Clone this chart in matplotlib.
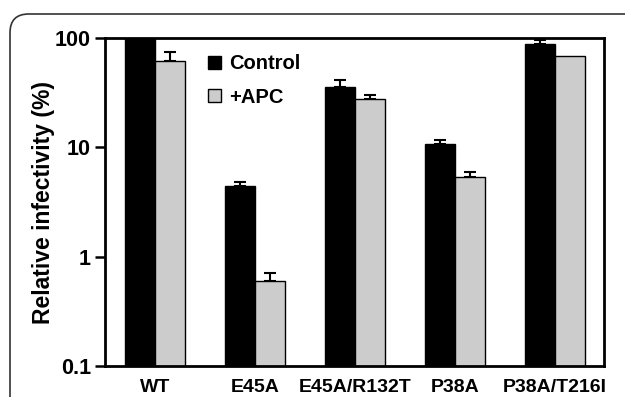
import matplotlib
matplotlib.use("Agg")
import matplotlib.pyplot as plt
from matplotlib.patches import FancyBboxPatch
import numpy as np

plt.rcParams['font.family'] = ['Liberation Sans', 'DejaVu Sans']
plt.rcParams['font.weight'] = 'bold'

# valeurs
mutants = ['WT', 'E45A', 'E45A/R132T', 'P38A', 'P38A/T216I']
control = [100, 4.4, 36, 10.7, 88]
control_err = [0, 0.4, 5, 1.0, 8]
apc = [61, 0.60, 27.5, 5.3, 68]
apc_err = [13, 0.11, 2.5, 0.7, 0]

fig = plt.figure(figsize=(6.25, 3.97), dpi=100)

# cadre arrondi autour de la figure (coupe a droite et en bas)
frame = FancyBboxPatch((10 / 625, -0.3), 1.3, 1.3 - 14 / 397,
                       boxstyle="round,pad=0,rounding_size=0.03",
                       transform=fig.transFigure, fill=False,
                       edgecolor='#333333', linewidth=1.2, mutation_aspect=625 / 397)
fig.patches.append(frame)

ax = fig.add_axes([105 / 625, 31 / 397, 499 / 625, 328 / 397])

x = np.arange(len(mutants))
w = 0.3
b1 = ax.bar(x - w / 2, control, w, color='black', edgecolor='black', linewidth=1,
            label='Control', zorder=2)
b2 = ax.bar(x + w / 2, apc, w, color='#cccccc', edgecolor='black', linewidth=1,
            label='+APC', zorder=2)

err_kw = dict(fmt='none', ecolor='black', elinewidth=1.5, capsize=4.5, capthick=1.5, zorder=1)
for xs, vals, errs in [(x - w / 2, control, control_err), (x + w / 2, apc, apc_err)]:
    keep = [i for i in range(len(errs)) if errs[i] > 0]
    ax.errorbar(xs[keep], np.array(vals)[keep],
                yerr=[np.zeros(len(keep)), np.array(errs)[keep]], **err_kw)

ax.set_yscale('log')
ax.set_ylim(0.1, 100)
ax.set_xlim(-0.5, 4.49)
ax.set_yticks([0.1, 1, 10, 100])
ax.set_yticklabels(['0.1', '1', '10', '100'])
ax.yaxis.set_minor_locator(matplotlib.ticker.NullLocator())
ax.set_xticks(x)
ax.set_xticklabels(mutants)
ax.tick_params(axis='x', length=0, pad=9.5, labelsize=14)
ax.tick_params(axis='y', length=7, width=1.8, pad=3, labelsize=15.5)
for lab in ax.get_xticklabels() + ax.get_yticklabels():
    lab.set_fontweight('bold')
for s in ax.spines.values():
    s.set_linewidth(2)

ax.set_ylabel('Relative infectivity (%)', fontsize=16.5, fontweight='bold', labelpad=0)

ax.legend(handles=[b1, b2], loc='upper left', bbox_to_anchor=(0.17, 1.005),
          frameon=False, handlelength=0.65, handleheight=0.65,
          handletextpad=0.4, labelspacing=0.7, prop={'weight': 'bold', 'size': 14.5})

fig.savefig('out.png', dpi=100)
